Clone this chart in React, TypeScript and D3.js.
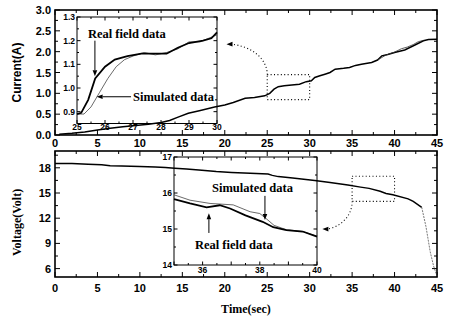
import React from "react";
import * as d3 from "d3";

// main panel, current (A) vs time (s)
const curT = [0.5, 2, 3.5, 5, 6.5, 8, 9.5, 11, 12.5, 13.5, 14.5, 15.7, 17, 18.8, 20, 21, 22.4, 23.5, 24.7, 25.3, 25.8, 26.3, 27, 27.9, 28.8, 29.6, 30.2, 30.6, 31.2, 31.8, 32.4, 33, 34, 34.7, 35.4, 36.1, 37.3, 38, 38.5, 39.2, 40, 41.2, 42.4, 43.4, 44, 45];
const curReal = [0.02, 0.04, 0.07, 0.12, 0.16, 0.2, 0.23, 0.26, 0.3, 0.35, 0.43, 0.52, 0.58, 0.67, 0.72, 0.78, 0.88, 0.9, 0.94, 1.0, 1.1, 1.16, 1.18, 1.2, 1.22, 1.28, 1.3, 1.38, 1.42, 1.46, 1.5, 1.58, 1.6, 1.62, 1.67, 1.7, 1.74, 1.8, 1.9, 1.93, 1.98, 2.04, 2.16, 2.26, 2.29, 2.3];
const curSimT = [38, 39, 40, 40.8, 41.5, 42.2, 42.8, 43.4];
const curSim = [1.8, 1.92, 1.99, 2.07, 2.11, 2.17, 2.24, 2.27];

// main panel, voltage (V) vs time (s)
const voltT = [0, 2, 3.9, 5.5, 6.5, 7.85, 10, 11.8, 13, 14.1, 15.5, 17.3, 19, 20.8, 23, 25.1, 25.6, 26.3, 28, 30.6, 32.4, 34.5, 36, 37, 38.3, 39, 39.8, 41.6, 42.2, 43.2];
const voltReal = [18.5, 18.5, 18.42, 18.35, 18.25, 18.2, 18.15, 18.1, 18.05, 17.95, 17.85, 17.7, 17.55, 17.45, 17.35, 17.25, 17.1, 16.95, 16.8, 16.5, 16.25, 15.95, 15.7, 15.55, 15.2, 14.95, 14.8, 14.3, 14.0, 13.3];
const dropT = [43.2, 43.7, 44.2, 44.6, 45];
const dropV = [13.3, 11, 8, 6.3, 5.1];

// inset 1 (current, 25-30 s)
const in1T = [25, 25.15, 25.4, 25.65, 26, 26.35, 26.8, 27.3, 27.8, 28.2, 28.6, 29, 29.5, 29.8, 30];
const in1Real = [0.89, 0.895, 0.95, 1.04, 1.09, 1.12, 1.135, 1.145, 1.145, 1.145, 1.17, 1.19, 1.2, 1.21, 1.235];
const in1SimT = [25, 25.25, 25.5, 25.8, 26.1, 26.4, 26.7, 27, 27.4, 27.8, 28.2, 28.6, 29, 29.4, 29.8, 30];
const in1Sim = [0.89, 0.89, 0.92, 0.98, 1.04, 1.09, 1.12, 1.135, 1.15, 1.14, 1.15, 1.165, 1.195, 1.195, 1.215, 1.225];

// inset 2 (voltage, 35-40 s)
const in2T = [35, 35.56, 36.14, 36.6, 36.96, 37.5, 38.1, 38.47, 38.93, 39.5, 40];
const in2Real = [15.83, 15.71, 15.6, 15.66, 15.57, 15.38, 15.2, 15.05, 14.97, 14.93, 14.79];
const in2SimT = [35, 35.56, 36.26, 37.07, 37.66, 38, 38.25, 38.5, 38.93, 39.5, 40];
const in2Sim = [15.95, 15.8, 15.71, 15.67, 15.48, 15.43, 15.27, 15.1, 14.98, 14.93, 14.8];

const timeTicks = [0, 5, 10, 15, 20, 25, 30, 35, 40, 45];
const curTicks = [0, 0.5, 1, 1.5, 2, 2.5, 3];
const voltTicks = [6, 9, 12, 15, 18];
const in1XTicks = [25, 26, 27, 28, 29, 30];
const in1YTicks = [0.9, 1.0, 1.1, 1.2, 1.3];
const in2XTicks = [36, 38, 40];
const in2YTicks = [14, 15, 16, 17];

const SANS = "'Liberation Sans', Arial, sans-serif";
const SERIF = "'Liberation Serif', 'Times New Roman', serif";

type Sc = d3.ScaleLinear<number, number>;

function range(a: number, b: number, s: number) {
  const out: number[] = [];
  for (let v = a; v <= b + 1e-9; v += s) out.push(+v.toFixed(4));
  return out;
}

function Frame({ x, y, xMaj, xMin, yMaj, yMin, big, small, sw }: {
  x: Sc; y: Sc; xMaj: number[]; xMin: number[]; yMaj: number[]; yMin: number[]; big: number; small: number; sw: number;
}) {
  const [x0, x1] = x.range();
  const [y0, y1] = y.range(); // y0 bottom, y1 top
  const segs: string[] = [];
  const isMaj = (arr: number[], v: number) => arr.some((m) => Math.abs(m - v) < 1e-6);
  xMin.forEach((v) => {
    const L = isMaj(xMaj, v) ? big : small;
    const px = x(v);
    segs.push(`M${px},${y0}v${-L}M${px},${y1}v${L}`);
  });
  yMin.forEach((v) => {
    const L = isMaj(yMaj, v) ? big : small;
    const py = y(v);
    segs.push(`M${x0},${py}h${L}M${x1},${py}h${-L}`);
  });
  return (
    <g>
      <rect x={x0} y={y1} width={x1 - x0} height={y0 - y1} fill="none" stroke="#000" strokeWidth={sw} />
      <path d={segs.join("")} stroke="#000" strokeWidth={1} fill="none" />
    </g>
  );
}

function lineOf(x: Sc, y: Sc, ts: number[], vs: number[]) {
  return d3.line<number>().x((_, i) => x(ts[i])).y((v) => y(v))(vs) || "";
}

function Arrow({ x1, y1, x2, y2 }: { x1: number; y1: number; x2: number; y2: number }) {
  const a = Math.atan2(y2 - y1, x2 - x1);
  const L = 6, w = 2.3;
  const bx = x2 - L * Math.cos(a), by = y2 - L * Math.sin(a);
  const px = -Math.sin(a) * w, py = Math.cos(a) * w;
  return (
    <g>
      <line x1={x1} y1={y1} x2={bx} y2={by} stroke="#000" strokeWidth={1} />
      <polygon points={`${x2},${y2} ${bx + px},${by + py} ${bx - px},${by - py}`} fill="#000" />
    </g>
  );
}

export default function App() {
  const x = d3.scaleLinear().domain([0, 45]).range([55, 437]);
  const yC = d3.scaleLinear().domain([0, 3]).range([135, 10]);
  const yV = d3.scaleLinear().domain([5, 20]).range([277, 151]);
  const x1 = d3.scaleLinear().domain([25, 30]).range([77, 217]);
  const y1 = d3.scaleLinear().domain([0.85, 1.3]).range([123.5, 17]);
  const x2 = d3.scaleLinear().domain([35, 40]).range([174, 317]);
  const y2 = d3.scaleLinear().domain([14, 17]).range([265, 157]);

  // zoom boxes in data units
  const b1 = { l: x(25), r: x(30), t: yC(1.45), b: yC(0.85) };
  const b2 = { l: x(35), r: x(40), t: yV(17), b: yV(14) };
  const tip1 = { x: x(20.2), y: yC(2.18) };
  const tip2 = { x: x(31.5), y: yV(10.7) };

  const dot = { stroke: "#000", strokeWidth: 1.1, strokeDasharray: "1 2.4", fill: "none" } as const;

  return (
    <svg width={449} height={320} style={{ position: "absolute", left: 0, top: 0, background: "#fff" }}>
      {/* top panel */}
      <Frame x={x} y={yC} xMaj={timeTicks} xMin={range(0, 45, 2.5)} yMaj={curTicks} yMin={range(0, 3, 0.25)} big={5} small={3} sw={1.6} />
      {timeTicks.map((t) => (
        <text key={"tx" + t} x={x(t)} y={147} textAnchor="middle" fontFamily={SANS} fontWeight="bold" fontSize={11}>{t}</text>
      ))}
      {curTicks.map((v) => (
        <text key={"cy" + v} x={51} y={yC(v) + 4} textAnchor="end" fontFamily={SANS} fontWeight="bold" fontSize={11}>{v.toFixed(1)}</text>
      ))}
      <text transform={`translate(21,${yC(1.5)}) rotate(-90)`} textAnchor="middle" fontFamily={SANS} fontWeight="bold" fontSize={12}>Current(A)</text>
      <path d={lineOf(x, yC, curT, curReal)} stroke="#000" strokeWidth={1.5} fill="none" />
      <path d={lineOf(x, yC, curSimT, curSim)} stroke="#333" strokeWidth={0.8} fill="none" />
      <rect x={b1.l} y={b1.t} width={b1.r - b1.l} height={b1.b - b1.t} {...dot} />
      <path d={`M${b1.l},${b1.t}A${b1.l - tip1.x},${b1.t - tip1.y} 0 0 0 ${tip1.x + 4},${tip1.y}`} {...dot} />
      <polygon points={`${tip1.x},${tip1.y} ${tip1.x + 6},${tip1.y - 2.3} ${tip1.x + 6},${tip1.y + 2.3}`} fill="#000" />

      {/* inset 1 */}
      <Frame x={x1} y={y1} xMaj={in1XTicks} xMin={range(25, 30, 0.5)} yMaj={in1YTicks} yMin={range(0.85, 1.3, 0.05)} big={3.5} small={2} sw={1} />
      {in1XTicks.map((t) => (
        <text key={"ix" + t} x={x1(t)} y={130} textAnchor="middle" fontFamily={SANS} fontWeight="bold" fontSize={8.5}>{t}</text>
      ))}
      {in1YTicks.map((v) => (
        <text key={"iy" + v} x={75} y={y1(v) + 3} textAnchor="end" fontFamily={SANS} fontWeight="bold" fontSize={8.5}>{v.toFixed(1)}</text>
      ))}
      <path d={lineOf(x1, y1, in1SimT, in1Sim)} stroke="#444" strokeWidth={0.8} fill="none" />
      <path d={lineOf(x1, y1, in1T, in1Real)} stroke="#000" strokeWidth={1.8} fill="none" />
      <text x={x1(25.39)} y={y1(1.213)} fontFamily={SERIF} fontWeight="bold" fontSize={12.5}>Real field data</text>
      <Arrow x1={x1(25.64)} y1={y1(1.2)} x2={x1(25.64)} y2={y1(1.05)} />
      <text x={x1(27.0)} y={y1(0.945)} fontFamily={SERIF} fontWeight="bold" fontSize={12.5}>Simulated data</text>
      <Arrow x1={x1(26.93)} y1={y1(0.963)} x2={x1(25.7)} y2={y1(0.963)} />

      {/* bottom panel */}
      <Frame x={x} y={yV} xMaj={timeTicks} xMin={range(0, 45, 2.5)} yMaj={voltTicks} yMin={range(6, 19.5, 1.5)} big={5} small={3} sw={1.6} />
      {timeTicks.map((t) => (
        <text key={"bx" + t} x={x(t)} y={292} textAnchor="middle" fontFamily={SANS} fontWeight="bold" fontSize={11}>{t}</text>
      ))}
      {voltTicks.map((v) => (
        <text key={"vy" + v} x={51} y={yV(v) + 4} textAnchor="end" fontFamily={SANS} fontWeight="bold" fontSize={11}>{v}</text>
      ))}
      <text transform={`translate(21,${yV(11.5)}) rotate(-90)`} textAnchor="middle" fontFamily={SERIF} fontWeight="bold" fontSize={12}>Voltage(Volt)</text>
      <text x={x(22.5)} y={313} textAnchor="middle" fontFamily={SERIF} fontWeight="bold" fontSize={12}>Time(sec)</text>
      <path d={lineOf(x, yV, voltT, voltReal)} stroke="#000" strokeWidth={1.5} fill="none" />
      <path d={lineOf(x, yV, dropT, dropV)} stroke="#555" strokeWidth={0.8} strokeDasharray="2 1" fill="none" />
      <rect x={b2.l} y={b2.t} width={b2.r - b2.l} height={b2.b - b2.t} {...dot} />
      <path d={`M${b2.l},${b2.b}A${b2.l - tip2.x},${tip2.y - b2.b} 0 0 1 ${tip2.x + 4},${tip2.y}`} {...dot} />
      <polygon points={`${tip2.x},${tip2.y} ${tip2.x + 6},${tip2.y - 2.3} ${tip2.x + 6},${tip2.y + 2.3}`} fill="#000" />

      {/* inset 2 */}
      <Frame x={x2} y={y2} xMaj={range(35, 40, 1)} xMin={range(35, 40, 0.5)} yMaj={in2YTicks} yMin={range(14, 17, 0.5)} big={3.5} small={2} sw={1} />
      {in2XTicks.map((t) => (
        <text key={"jx" + t} x={x2(t)} y={273} textAnchor="middle" fontFamily={SANS} fontWeight="bold" fontSize={8.5}>{t}</text>
      ))}
      {in2YTicks.map((v) => (
        <text key={"jy" + v} x={172} y={y2(v) + 3} textAnchor="end" fontFamily={SANS} fontWeight="bold" fontSize={8.5}>{v}</text>
      ))}
      <path d={lineOf(x2, y2, in2SimT, in2Sim)} stroke="#444" strokeWidth={0.8} fill="none" />
      <path d={lineOf(x2, y2, in2T, in2Real)} stroke="#000" strokeWidth={1.8} fill="none" />
      <text x={x2(36.33)} y={y2(16.03)} fontFamily={SERIF} fontWeight="bold" fontSize={12.5}>Simulated data</text>
      <Arrow x1={x2(38.18)} y1={y2(15.92)} x2={x2(38.18)} y2={y2(15.25)} />
      <text x={x2(35.73)} y={y2(14.44)} fontFamily={SERIF} fontWeight="bold" fontSize={12.5}>Real field data</text>
      <Arrow x1={x2(36.22)} y1={y2(14.89)} x2={x2(36.22)} y2={y2(15.44)} />
    </svg>
  );
}
